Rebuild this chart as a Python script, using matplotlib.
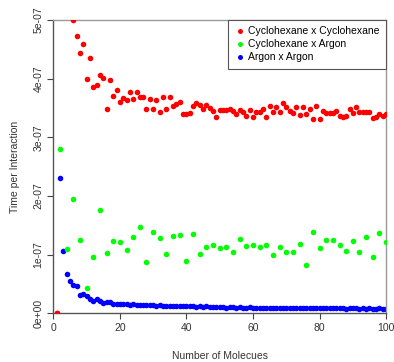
import numpy as np
import matplotlib
matplotlib.use("Agg")
import matplotlib.pyplot as plt

plt.rcParams["font.family"] = ["Liberation Sans", "DejaVu Sans"]

# Cyclohexane x Cyclohexane (every molecule count 1..100), units of 1e-7
cc_x = list(range(1, 101))
cc_y = [0.0, 9.0, 7.0, 6.0, 5.4, 5.00, 4.72, 4.44, 4.59, 3.99,
        4.36, 3.86, 3.89, 4.07, 4.01, 3.48, 3.98, 3.71, 3.81, 3.60,
        3.67, 3.64, 3.78, 3.66, 3.77, 3.69, 3.69, 3.48, 3.66, 3.48,
        3.63, 3.44, 3.68, 3.48, 3.68, 3.53, 3.57, 3.60, 3.39, 3.40,
        3.41, 3.54, 3.58, 3.56, 3.48, 3.55, 3.50, 3.45, 3.34, 3.47,
        3.47, 3.47, 3.48, 3.45, 3.40, 3.46, 3.43, 3.36, 3.46, 3.35,
        3.43, 3.43, 3.48, 3.35, 3.53, 3.43, 3.51, 3.43, 3.58, 3.52,
        3.45, 3.42, 3.51, 3.38, 3.51, 3.40, 3.48, 3.32, 3.53, 3.31,
        3.45, 3.41, 3.42, 3.41, 3.45, 3.36, 3.34, 3.37, 3.48, 3.41,
        3.52, 3.43, 3.43, 3.43, 3.43, 3.33, 3.35, 3.39, 3.36, 3.39]

# Cyclohexane x Argon (even counts 2..100)
ca_x = list(range(2, 101, 2))
ca_y = [2.80, 1.10, 1.95, 1.25, 0.43, 0.97, 1.76, 1.03, 1.24, 1.22,
        1.09, 1.30, 1.47, 0.88, 1.38, 1.28, 1.02, 1.32, 1.34, 0.90,
        1.35, 1.02, 1.13, 1.16, 1.12, 1.14, 1.04, 1.27, 1.15, 1.17,
        1.13, 1.16, 0.99, 1.13, 1.05, 1.05, 1.18, 0.83, 1.39, 1.12,
        1.25, 1.25, 1.17, 1.06, 1.24, 1.04, 1.30, 0.96, 1.37, 1.21]

# Argon x Argon (every count 1..100)
aa_x = list(range(1, 101))
aa_y = [0.0, 2.30, 1.07, 0.68, 0.55, 0.48, 0.46, 0.31, 0.34, 0.30,
        0.24, 0.22, 0.25, 0.22, 0.18, 0.20, 0.20, 0.17, 0.16, 0.16,
        0.17, 0.16, 0.15, 0.16, 0.15, 0.14, 0.15, 0.14, 0.14, 0.14,
        0.13, 0.14, 0.13, 0.13, 0.13, 0.12, 0.13, 0.12, 0.12, 0.12,
        0.12, 0.12, 0.11, 0.12, 0.11, 0.12, 0.11, 0.11, 0.11, 0.11,
        0.11, 0.10, 0.11, 0.11, 0.10, 0.11, 0.10, 0.10, 0.11, 0.10,
        0.10, 0.10, 0.10, 0.10, 0.10, 0.09, 0.10, 0.10, 0.10, 0.09,
        0.10, 0.09, 0.10, 0.09, 0.09, 0.10, 0.09, 0.09, 0.09, 0.09,
        0.09, 0.09, 0.09, 0.09, 0.09, 0.09, 0.09, 0.08, 0.09, 0.09,
        0.09, 0.08, 0.09, 0.08, 0.09, 0.08, 0.08, 0.09, 0.08, 0.08]

x_ticks = [0, 20, 40, 60, 80, 100]
y_ticks = [0, 1e-7, 2e-7, 3e-7, 4e-7, 5e-7]
y_labels = ["0e+00", "1e-07", "2e-07", "3e-07", "4e-07", "5e-07"]

fig = plt.figure(figsize=(3.94, 3.62), dpi=100)
ax = fig.add_axes([0.1353, 0.134, 0.980 - 0.1353, 0.9448 - 0.134])

ms = 4.0
ax.plot(aa_x, np.array(aa_y) * 1e-7, "o", color="#0000ff", ms=ms, mew=0, label="Argon x Argon", zorder=2)
ax.plot(ca_x, np.array(ca_y) * 1e-7, "o", color="#00ff00", ms=ms, mew=0, label="Cyclohexane x Argon", zorder=3)
ax.plot(cc_x, np.array(cc_y) * 1e-7, "o", color="#ff0000", ms=ms, mew=0, label="Cyclohexane x Cyclohexane", zorder=4)

ax.set_xlim(0, 100)
ax.set_ylim(0, 5e-7)
ax.set_xticks(x_ticks)
ax.set_yticks(y_ticks)
ax.set_yticklabels(y_labels, rotation=90, va="center")
ax.tick_params(labelsize=7.5, length=4, width=0.8, color="#444444", labelcolor="#333333", pad=3)

for s in ["left", "bottom"]:
    ax.spines[s].set_color("#555555")
    ax.spines[s].set_linewidth(1.0)
for s in ["top", "right"]:
    ax.spines[s].set_color("#999999")
    ax.spines[s].set_linewidth(1.0)

ax.set_xlabel("Number of Molecues", fontsize=7.5, color="#333333", labelpad=13)
ax.set_ylabel("Time per Interaction", fontsize=7.5, color="#333333", labelpad=10)

handles, labels = ax.get_legend_handles_labels()
leg = ax.legend(handles[::-1], labels[::-1], loc="upper right", fontsize=7.5,
                frameon=True, fancybox=False, framealpha=1, edgecolor="#555555",
                borderaxespad=0, handletextpad=0.2, handlelength=1.2,
                labelspacing=0.3, borderpad=0.6, markerscale=0.9)
leg.get_frame().set_linewidth(0.8)

fig.savefig("out.png", dpi=100)
